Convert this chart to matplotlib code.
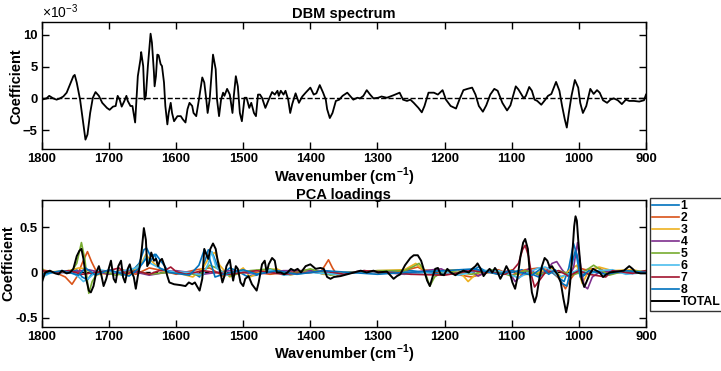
import numpy as np
import matplotlib
matplotlib.use("Agg")
import matplotlib.pyplot as plt

plt.rcParams['font.family'] = ['Liberation Sans', 'DejaVu Sans']
plt.rcParams['font.weight'] = 'bold'

# DBM spectrum (x1e-3) as (wavenumber, value)
dbm = [
    (1800, -0.2), (1793, 0), (1789, 0.4), (1783, 0), (1778, -0.2), (1773, 0), (1768, 0.3),
    (1763, 0.9), (1758, 2.2), (1753, 3.5), (1751, 3.7), (1748, 2.5), (1743, -0.2), (1739, -3.3),
    (1735, -6.5), (1732, -5.7), (1728, -2.3), (1724, 0.1), (1720, 1.0), (1715, 0.4), (1710, -0.7),
    (1703, -1.5), (1699, -1.8), (1694, -1.3), (1690, -1.2), (1687, 0.4), (1684, -0.2), (1681, -1.3),
    (1677, -0.4), (1674, 0.4), (1672, -0.4), (1668, -1.2), (1665, -1.2), (1661, -3.8), (1659, -0.2),
    (1657, 3.5), (1653, 6.2), (1652, 7.3), (1649, 5.1), (1647, -0.2), (1645, 0.4), (1642, 5.1),
    (1638, 10.2), (1636, 8.8), (1633, 4.1), (1632, 1.9), (1630, 3.5), (1628, 6.9), (1626, 6.8),
    (1623, 5.4), (1621, 5.1), (1618, 2.5), (1616, -1.2), (1613, -4.1), (1611, -2.3), (1608, -0.7),
    (1606, -2.3), (1603, -3.6), (1598, -2.8), (1593, -2.8), (1590, -3.3), (1586, -3.8), (1583, -1.7),
    (1580, -0.7), (1576, -1.2), (1574, -2.3), (1570, -2.8), (1566, -0.2), (1561, 3.3), (1558, 2.5),
    (1555, -0.2), (1553, -2.3), (1550, -0.2), (1545, 6.9), (1541, 4.6), (1539, -0.2), (1536, -2.8),
    (1533, -0.2), (1530, 0.9), (1528, 0.4), (1524, 1.5), (1520, 0.6), (1516, -2.3), (1514, 0.4),
    (1511, 3.5), (1508, 1.9), (1505, -2.3), (1502, -3.6), (1498, 0.1), (1495, 0.1), (1491, -1.5),
    (1488, -0.7), (1484, -2.3), (1481, -2.8), (1478, 0.6), (1475, 0.6), (1472, 0.1), (1467, -1.5),
    (1462, -0.2), (1457, 1.0), (1453, 0.6), (1449, 1.2), (1447, 0.4), (1444, 1.2), (1440, 0.6),
    (1437, 1.2), (1433, -0.2), (1430, -2.3), (1427, -0.9), (1422, 0.8), (1417, -0.7), (1412, 0.3),
    (1407, 0.9), (1400, 1.7), (1395, 0.6), (1391, 0.8), (1386, 2.1), (1381, 0.9), (1377, -0.2),
    (1375, -1.7), (1371, -3.1), (1367, -2.3), (1362, -0.4), (1357, -0.2), (1352, 0.4), (1345, 0.9),
    (1341, 0.4), (1336, -0.2), (1330, 0.1), (1326, 0), (1321, 0.4), (1316, 1.3), (1311, 0.6),
    (1306, 0), (1299, 0.1), (1294, 0.3), (1286, 0.1), (1276, 0.5), (1267, 0.9), (1262, -0.2),
    (1256, -0.4), (1251, -0.2), (1246, -0.7), (1239, -1.5), (1234, -2.2), (1230, -1.2), (1224, 0.9),
    (1216, 0.9), (1210, 0.6), (1203, 1.3), (1198, -0.2), (1191, -1.2), (1183, -1.6), (1178, -0.2),
    (1172, 1.3), (1166, 1.5), (1159, 1.7), (1154, 0.6), (1149, -1.2), (1143, -2.1), (1138, -1.1),
    (1132, 0.6), (1126, 1.5), (1121, 1.2), (1114, -0.7), (1107, -1.9), (1102, -1.1), (1098, 0.4),
    (1094, 1.9), (1090, 1.4), (1082, 0), (1079, 0.4), (1074, 1.8), (1070, 1.2), (1066, -0.2),
    (1062, -0.4), (1056, -1.0), (1050, -0.2), (1046, 0.4), (1041, 0.7), (1034, 2.6), (1029, 1.2),
    (1025, -1.2), (1021, -3.3), (1018, -4.6), (1015, -2.3), (1011, 0.4), (1006, 2.9), (1001, 1.7),
    (998, -0.7), (994, -2.3), (989, -1.2), (983, 1.5), (978, 0.7), (973, 1.3), (969, 0.9),
    (964, -0.3), (958, -0.7), (953, -0.2), (948, 0), (942, -0.3), (936, -0.9), (930, -0.2),
    (925, -0.4), (918, -0.4), (910, -0.5), (903, -0.3), (900, 0.6),
]

# PCA loadings 1..8 and TOTAL
pc1 = [(1800, 0), (1760, 0), (1748, 0.03), (1740, -0.05), (1732, -0.08), (1724, 0), (1700, 0.02),
       (1680, -0.03), (1665, 0.02), (1655, 0.1), (1648, 0.25), (1644, 0.27), (1638, 0.18), (1630, 0.2),
       (1622, 0.12), (1612, 0.02), (1600, 0), (1575, 0), (1565, -0.05), (1558, 0.1), (1552, 0.25),
       (1546, 0.22), (1540, 0.1), (1532, -0.02), (1520, 0.05), (1510, 0.02), (1495, -0.04), (1480, -0.03),
       (1460, 0.03), (1440, 0), (1400, 0.02), (1380, -0.02), (1340, 0), (1300, 0.01), (1250, 0.02),
       (1200, -0.02), (1160, 0.01), (1150, 0.06), (1140, 0.02), (1100, 0), (1085, 0.03), (1060, -0.05),
       (1045, 0.03), (1030, -0.06), (1022, -0.1), (1015, 0.05), (1008, 0.32), (1003, 0.2), (996, -0.05),
       (985, 0), (960, 0.02), (940, 0), (900, 0)]
pc2 = [(1800, 0.03), (1780, 0), (1765, -0.05), (1755, -0.13), (1748, -0.05), (1740, 0.1), (1732, 0.23),
       (1726, 0.12), (1718, 0), (1700, -0.02), (1680, 0.03), (1660, -0.02), (1640, 0.05), (1620, 0.02),
       (1600, -0.02), (1570, 0.03), (1550, 0.05), (1530, -0.04), (1500, 0.02), (1460, -0.02), (1400, 0.03),
       (1385, 0), (1378, 0.08), (1373, 0.14), (1367, 0.05), (1360, -0.03), (1330, 0.01), (1280, -0.01),
       (1250, 0.04), (1240, 0.06), (1230, 0.02), (1200, 0), (1160, -0.05), (1150, -0.03), (1120, 0.03),
       (1100, -0.03), (1080, 0.03), (1060, 0.05), (1040, 0.02), (1028, -0.08), (1020, -0.18), (1013, -0.08),
       (1000, 0.05), (990, 0.03), (970, 0.05), (955, -0.02), (930, 0.02), (900, 0)]
pc3 = [(1800, 0), (1760, 0.02), (1745, 0.05), (1735, 0.04), (1720, -0.03), (1700, 0), (1670, -0.03),
       (1650, 0.12), (1645, 0.2), (1640, 0.15), (1630, 0.08), (1615, 0), (1600, 0), (1575, -0.05),
       (1560, 0.05), (1548, 0.2), (1542, 0.22), (1535, 0.08), (1520, -0.05), (1500, 0.05), (1490, -0.05),
       (1470, 0.02), (1450, 0.04), (1430, -0.03), (1400, 0.03), (1380, -0.02), (1350, 0), (1300, 0.02),
       (1260, 0.03), (1243, 0.1), (1232, 0.03), (1215, 0.02), (1180, 0.03), (1165, -0.1), (1158, -0.05),
       (1145, 0.02), (1120, -0.02), (1100, 0.03), (1085, -0.03), (1060, 0), (1040, 0.05), (1025, -0.06),
       (1015, 0.02), (1003, 0.08), (995, -0.12), (985, 0.02), (970, 0.06), (950, 0.02), (920, 0.03), (900, 0)]
pc4 = [(1800, 0.01), (1760, 0), (1730, 0.03), (1700, -0.02), (1670, 0.02), (1640, -0.03), (1600, 0.02),
       (1560, -0.02), (1520, 0.02), (1480, -0.02), (1440, 0.02), (1400, 0.02), (1360, -0.02), (1320, 0.02),
       (1290, 0), (1260, -0.02), (1230, 0.02), (1205, 0.04), (1195, 0), (1180, -0.02), (1165, 0.03),
       (1150, -0.04), (1135, 0.02), (1120, -0.02), (1105, 0.02), (1095, -0.1), (1088, -0.05), (1075, 0.04),
       (1060, -0.03), (1048, 0.02), (1040, 0.1), (1033, 0.12), (1025, 0.03), (1015, -0.05), (1008, 0.05),
       (1002, 0.33), (997, 0.05), (992, -0.15), (987, -0.18), (980, -0.05), (970, 0), (950, 0.02),
       (920, -0.01), (900, 0.02)]
pc5 = [(1800, 0.05), (1795, 0), (1770, 0.01), (1755, 0.02), (1748, 0.1), (1741, 0.33), (1736, 0.15),
       (1730, -0.23), (1725, -0.1), (1715, 0.02), (1690, -0.03), (1660, 0.02), (1640, -0.02), (1600, 0.01),
       (1565, -0.03), (1550, 0.08), (1540, 0.05), (1520, -0.04), (1490, 0.02), (1460, 0.04), (1430, -0.02),
       (1400, 0.04), (1370, -0.03), (1340, 0), (1300, 0.02), (1260, 0.02), (1248, 0.06), (1238, 0.1),
       (1230, 0.02), (1222, -0.15), (1215, -0.05), (1200, 0.02), (1160, -0.02), (1130, 0.03), (1100, -0.04),
       (1080, 0.02), (1060, -0.02), (1030, 0.02), (1010, -0.03), (990, 0.02), (978, 0.08), (968, 0.03),
       (955, -0.03), (930, 0.02), (900, 0.01)]
pc6 = [(1800, -0.05), (1785, 0), (1760, 0.02), (1745, -0.05), (1738, -0.1), (1728, -0.05), (1715, 0.03),
       (1690, 0), (1660, 0.05), (1650, 0.1), (1645, 0.18), (1638, 0.1), (1625, 0.05), (1610, 0.01),
       (1580, 0), (1560, -0.03), (1552, 0.1), (1547, 0.23), (1540, 0.05), (1525, -0.03), (1500, 0.02),
       (1480, -0.02), (1460, 0.03), (1440, -0.03), (1400, 0), (1360, -0.02), (1320, 0.01), (1280, 0),
       (1250, -0.02), (1210, 0.02), (1180, -0.03), (1150, 0.02), (1120, 0.02), (1100, -0.03), (1090, -0.06),
       (1075, 0), (1060, 0.05), (1050, 0.06), (1040, 0.02), (1030, -0.05), (1020, -0.03), (1000, 0.03),
       (985, -0.02), (970, 0.02), (950, 0.03), (930, -0.02), (900, 0)]
pc7 = [(1800, 0.02), (1780, 0), (1760, 0.02), (1740, -0.02), (1720, 0), (1700, 0.02), (1685, 0.05),
       (1675, -0.02), (1660, 0.02), (1640, -0.02), (1625, 0.02), (1615, 0.03), (1608, 0.06), (1600, 0.01),
       (1585, -0.02), (1560, 0.02), (1520, -0.02), (1480, 0.02), (1440, -0.02), (1400, 0), (1380, 0.02),
       (1350, -0.02), (1320, 0.02), (1280, 0), (1250, -0.02), (1200, -0.03), (1160, 0.02), (1130, 0),
       (1110, -0.02), (1098, 0.03), (1090, 0.1), (1084, 0.25), (1080, 0.3), (1075, 0.18), (1070, -0.05),
       (1066, -0.16), (1060, -0.1), (1050, 0), (1030, 0.02), (1015, -0.04), (1000, 0.02), (985, -0.02),
       (960, -0.05), (950, 0.02), (920, -0.01), (900, 0.02)]
pc8 = [(1800, -0.02), (1770, 0.02), (1745, -0.03), (1735, 0.05), (1720, -0.03), (1700, 0.03), (1670, -0.04),
       (1655, 0.05), (1645, 0.15), (1640, 0.1), (1632, 0.2), (1625, 0.05), (1610, 0), (1580, -0.03),
       (1566, 0.08), (1558, 0.25), (1550, 0.15), (1542, -0.05), (1530, -0.02), (1500, 0.03), (1480, -0.02),
       (1450, 0.02), (1420, -0.02), (1380, 0.02), (1340, 0), (1300, -0.02), (1260, 0), (1200, 0.02),
       (1155, 0.04), (1145, 0.02), (1120, -0.02), (1100, 0.02), (1070, -0.03), (1055, 0.05), (1045, -0.02),
       (1035, 0.03), (1025, -0.12), (1018, -0.15), (1010, 0.1), (1005, 0.25), (998, -0.05), (985, 0.02),
       (960, -0.02), (930, 0.02), (900, 0)]
total = [
    (1800, -0.11), (1795, 0), (1788, 0.02), (1780, -0.01), (1775, -0.02), (1770, 0.02), (1763, -0.01),
    (1758, 0), (1753, 0.04), (1748, 0.18), (1744, 0.24), (1741, 0.26), (1738, 0.15), (1734, -0.07),
    (1730, -0.2), (1727, -0.22), (1723, -0.15), (1719, 0), (1715, 0.07), (1711, -0.04), (1708, -0.15),
    (1704, -0.07), (1700, 0.05), (1697, 0.13), (1693, -0.07), (1690, -0.11), (1686, 0.07), (1682, 0.13),
    (1679, -0.05), (1676, -0.11), (1672, 0.04), (1669, 0.09), (1666, 0), (1663, -0.05), (1660, -0.18),
    (1657, -0.04), (1654, 0.07), (1651, 0.26), (1648, 0.49), (1645, 0.36), (1643, 0.07), (1640, 0.11),
    (1637, 0.22), (1633, 0.13), (1630, 0.15), (1627, 0.07), (1624, 0.13), (1621, 0.15), (1617, 0.07),
    (1613, -0.04), (1610, -0.11), (1603, -0.13), (1593, -0.14), (1586, -0.15), (1581, -0.11), (1576, -0.13),
    (1572, -0.11), (1569, -0.15), (1565, -0.2), (1561, -0.07), (1558, 0.26), (1555, 0.2), (1552, 0.15),
    (1549, 0.26), (1545, 0.32), (1541, 0.26), (1538, 0.13), (1534, 0), (1531, -0.11), (1528, -0.04),
    (1525, 0.07), (1520, 0.14), (1518, 0.04), (1515, -0.09), (1511, 0.07), (1508, 0.04), (1504, -0.11),
    (1500, -0.15), (1497, -0.07), (1492, -0.04), (1487, -0.13), (1480, -0.2), (1477, -0.11), (1472, 0.09),
    (1468, 0.13), (1465, 0), (1462, 0.09), (1457, 0.16), (1453, 0.13), (1450, 0), (1444, 0), (1439, -0.02),
    (1434, 0), (1429, 0.04), (1424, 0.02), (1419, 0.04), (1414, 0), (1407, 0.07), (1400, 0.09),
    (1392, 0.04), (1385, 0.05), (1380, 0.04), (1375, -0.05), (1370, -0.07), (1365, -0.05), (1355, -0.04),
    (1345, -0.02), (1335, 0), (1325, 0.02), (1316, 0), (1306, 0.02), (1299, 0), (1286, 0.01),
    (1281, -0.03), (1276, -0.07), (1271, -0.04), (1266, -0.02), (1259, 0.08), (1251, 0.16), (1246, 0.19),
    (1240, 0.19), (1235, 0.13), (1230, 0.01), (1226, -0.09), (1222, -0.15), (1218, -0.05), (1214, 0.04),
    (1210, 0.05), (1206, -0.02), (1201, -0.03), (1196, 0.04), (1191, 0), (1184, -0.03), (1178, 0),
    (1172, 0.02), (1164, 0), (1159, 0.04), (1154, 0.07), (1151, 0.1), (1147, 0.05), (1142, -0.04),
    (1138, 0), (1133, 0.04), (1129, 0), (1125, 0.05), (1122, 0.02), (1117, -0.07), (1112, 0),
    (1108, 0.07), (1103, 0), (1099, -0.11), (1095, -0.18), (1091, -0.04), (1087, 0.18), (1083, 0.33),
    (1080, 0.37), (1076, 0.26), (1073, -0.02), (1070, -0.22), (1066, -0.33), (1063, -0.26), (1059, -0.07),
    (1055, 0.07), (1051, 0.16), (1047, 0.13), (1043, 0.05), (1040, 0.07), (1036, 0.02), (1032, -0.02),
    (1027, -0.11), (1023, -0.29), (1019, -0.44), (1016, -0.33), (1013, -0.11), (1010, 0.18), (1007, 0.51),
    (1005, 0.62), (1003, 0.57), (1001, 0.36), (998, 0.11), (996, -0.07), (992, -0.16), (989, -0.11),
    (984, -0.02), (979, 0.04), (974, 0.02), (969, 0), (964, -0.05), (959, -0.02), (954, 0), (943, 0.01),
    (933, 0.02), (925, 0.07), (920, 0.04), (915, 0), (908, -0.01), (900, -0.01),
]

pc_labels = ['1', '2', '3', '4', '5', '6', '7', '8', 'TOTAL']
pc_colors = ['#0072BD', '#D95319', '#EDB120', '#7E2F8E', '#77AC30', '#4DBEEE', '#A2142F', '#0072BD', 'black']
xticks = [1800, 1700, 1600, 1500, 1400, 1300, 1200, 1100, 1000, 900]

fig = plt.figure(figsize=(7.21, 3.71), dpi=100)
ax1 = fig.add_axes([0.058, 0.598, 0.838, 0.342])
ax2 = fig.add_axes([0.058, 0.119, 0.838, 0.342])


def style(ax, ylab_x):
    ax.set_xlim(1800, 900)
    ax.set_xticks(xticks)
    ax.tick_params(direction='in', top=True, right=True, length=5, width=1, labelsize=9.4, pad=3)
    for s in ax.spines.values():
        s.set_linewidth(1.0)
    for lab in ax.get_xticklabels() + ax.get_yticklabels():
        lab.set_fontweight('bold')
    ax.set_xlabel('Wavenumber (cm$^{\\mathregular{-1}}$)', fontsize=10.5, fontweight='bold', labelpad=0)
    ax.set_ylabel('Coefficient', fontsize=10.5, fontweight='bold')
    ax.yaxis.set_label_coords(ylab_x, 0.5)


d = np.array(dbm)
ax1.plot([1800, 900], [0, 0], 'k--', lw=1)
ax1.plot(d[:, 0], d[:, 1], color='black', lw=1.3)
ax1.set_ylim(-8, 12)
ax1.set_yticks([-5, 0, 5, 10])
style(ax1, -0.031)
ax1.set_title('DBM spectrum', fontsize=10.5, fontweight='bold', pad=3)
ax1.text(0.0, 1.01, '×10$^{\\mathregular{-3}}$', transform=ax1.transAxes, fontsize=10,
         fontweight='normal', ha='left', va='bottom')

ax2.plot([1800, 900], [0, 0], 'k--', lw=1)
lines = []
for data, col, lab in zip([pc1, pc2, pc3, pc4, pc5, pc6, pc7, pc8, total], pc_colors, pc_labels):
    a = np.array(data)
    lw = 1.4 if lab == 'TOTAL' else 1.2
    ln, = ax2.plot(a[:, 0], a[:, 1], color=col, lw=lw, label=lab)
    lines.append(ln)
ax2.set_ylim(-0.6, 0.8)
ax2.set_yticks([-0.5, 0, 0.5])
ax2.set_yticklabels(['-0.5', '0', '0.5'])
style(ax2, -0.043)
ax2.set_title('PCA loadings', fontsize=10.5, fontweight='bold', pad=1)

leg = fig.legend(handles=lines, loc='upper left', bbox_to_anchor=(650 / 721, 1 - 198 / 371),
                 fontsize=8.8, frameon=True, fancybox=False, edgecolor='black',
                 handlelength=2.2, handletextpad=0.1, labelspacing=0.0, borderpad=0.2,
                 borderaxespad=0)
leg.get_frame().set_linewidth(1.0)
for t in leg.get_texts():
    t.set_fontweight('bold')

fig.savefig('out.png', dpi=100)
